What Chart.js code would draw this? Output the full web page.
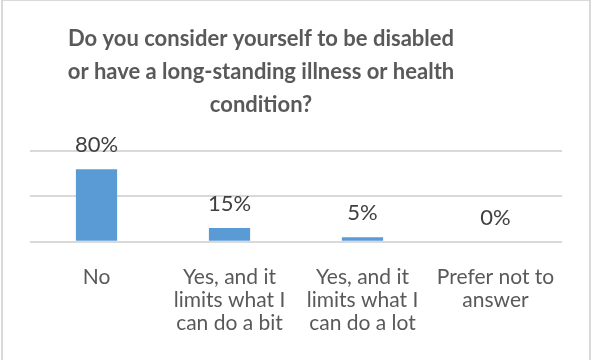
<!DOCTYPE html>
<html>
<head>
<meta charset="utf-8">
<script src="https://cdn.jsdelivr.net/npm/chart.js@4/dist/chart.umd.min.js"></script>
<style>
  html, body { margin: 0; padding: 0; background: #fff; }
  #wrap { position: relative; width: 593px; height: 360px; overflow: hidden; }
  #frame {
    position: absolute; left: 1px; top: 0; width: 586px; height: 380px;
    border-left: 2px solid #d9d9d9; border-right: 2px solid #d9d9d9; border-top: 1px solid #d9d9d9;
    pointer-events: none;
  }
</style>
</head>
<body>
<div id="wrap">
  <canvas id="chart" width="593" height="360"></canvas>
  <div id="frame"></div>
</div>
<script>
const titleLines = [
    'Do you consider yourself to be disabled',
    'or have a long-standing illness or health',
    'condition?'
];
const categories = [
    ['No'],
    ['Yes, and it', 'limits what I', 'can do a bit'],
    ['Yes, and it', 'limits what I', 'can do a lot'],
    ['Prefer not to', 'answer']
];
const percentages = [80, 15, 5, 0];

const FONT = "Lato, 'Open Sans', sans-serif";

// draws the value labels above each bar
const valueLabels = {
    id: 'valueLabels',
    afterDatasetsDraw(chart) {
        const ctx = chart.ctx;
        const meta = chart.getDatasetMeta(0);
        ctx.save();
        ctx.font = `22px ${FONT}`;
        ctx.fillStyle = '#404040';
        ctx.textAlign = 'center';
        ctx.textBaseline = 'alphabetic';
        meta.data.forEach((bar, i) => {
            ctx.fillText(percentages[i] + '%', bar.x, bar.y - 17);
        });
        ctx.restore();
    }
};

// the title in the original sits a bit left of centre
const titleShift = {
    id: 'titleShift',
    afterLayout(chart) {
        const t = chart.titleBlock;
        if (t) {
            t.left -= 35;
            t.right -= 35;
        }
    }
};

new Chart(document.getElementById('chart'), {
    type: 'bar',
    data: {
        labels: categories,
        datasets: [{
            data: percentages,
            backgroundColor: '#5b9bd5',
            barPercentage: 0.31,
            categoryPercentage: 1.0,
        }]
    },
    options: {
        responsive: false,
        animation: false,
        events: [],
        layout: { padding: { left: 30, right: 31, top: 22, bottom: 9 } },
        scales: {
            x: {
                grid: { display: false },
                border: { display: false },
                ticks: {
                    color: '#595959',
                    font: { family: FONT, size: 21, lineHeight: 1.1 },
                    maxRotation: 0,
                    autoSkip: false,
                    padding: 16,
                }
            },
            y: {
                min: 0,
                max: 100,
                ticks: { display: false, stepSize: 50 },
                border: { display: false },
                grid: { color: '#d9d9d9', lineWidth: 2, drawTicks: false },
            }
        },
        plugins: {
            legend: { display: false },
            tooltip: { enabled: false },
            title: {
                display: true,
                text: titleLines,
                color: '#595959',
                font: { family: FONT, size: 22, weight: 'bold', lineHeight: 1.5 },
                padding: { top: 0, bottom: 30 },
            }
        }
    },
    plugins: [valueLabels, titleShift]
});
</script>
</body>
</html>
